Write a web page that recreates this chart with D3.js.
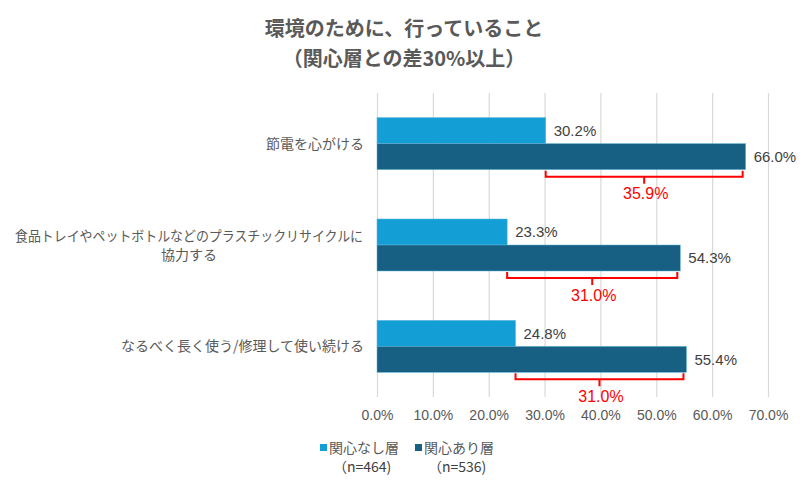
<!DOCTYPE html>
<html>
<head>
<meta charset="utf-8">
<script src="https://cdn.jsdelivr.net/npm/d3@7"></script>
<style>
  body { margin: 0; background: #fff; }
  svg { display: block; }
  .jp { font-family: "Noto Sans CJK JP", "Noto Sans", sans-serif; }
  .num { font-family: "Liberation Sans", Arial, sans-serif; }
</style>
</head>
<body>
<script>
let CATEGORIES = [
  ['節電を心がける'],
  ['食品トレイやペットボトルなどのプラスチックリサイクルに', '協力する'],
  ['なるべく長く使う/修理して使い続ける']
]
let SERIES = ['関心なし層', '関心あり層']
let SERIES_N = ['（n=464)', '（n=536)']
let NOT_INTERESTED = [30.2, 23.3, 24.8]
let INTERESTED = [66.0, 54.3, 55.4]
let DIFF_LABELS = ['35.9%', '31.0%', '31.0%']
let X_TICKS = [0, 10, 20, 30, 40, 50, 60, 70]
let TITLE = ['環境のために、行っていること', '（関心層との差30%以上）']

let COLORS = ['#139fd6', '#185f84']

function main () {
  let width = 807
  let height = 483
  let chart = {left: 377, right: 768, top: 93, bottom: 397}

  let svg = d3.select('body').append('svg')
    .attr('width', width)
    .attr('height', height)

  // title
  svg.append('g').selectAll('text').data(TITLE).enter()
    .append('text')
    .attr('class', 'jp')
    .attr('x', 404)
    .attr('y', (d, i) => 29 + i * 30)
    .attr('dy', '0.36em')
    .attr('text-anchor', 'middle')
    .attr('font-size', 20)
    .attr('font-weight', 'bold')
    .attr('fill', '#595959')
    .text(d => d)

  let x = d3.scaleLinear()
    .domain([0, 70])
    .range([chart.left, chart.right])

  let y = d3.scaleBand()
    .domain(d3.range(CATEGORIES.length))
    .range([chart.top, chart.bottom])
    .paddingInner(0.487)
    .paddingOuter(0.243)

  let ySub = d3.scaleBand()
    .domain(d3.range(SERIES.length))
    .range([0, y.bandwidth()])

  // grid
  let xAxis = d3.axisBottom(x)
    .tickValues(X_TICKS)
    .tickSize(-(chart.bottom - chart.top))
    .tickPadding(13)
    .tickFormat(d => d.toFixed(1) + '%')

  let axisG = svg.append('g')
    .attr('transform', `translate(0, ${chart.bottom})`)
    .call(xAxis)
  axisG.select('.domain').remove()
  axisG.selectAll('.tick line')
    .attr('stroke', '#d9d9d9')
    .attr('stroke-width', 1.2)
  axisG.selectAll('.tick text')
    .attr('class', 'num')
    .attr('font-size', 14)
    .attr('fill', '#595959')

  // bars
  let rows = CATEGORIES.map((c, i) => ({
    i, values: [NOT_INTERESTED[i], INTERESTED[i]]
  }))

  let groups = svg.append('g').selectAll('g').data(rows).enter()
    .append('g')
    .attr('transform', d => `translate(0, ${y(d.i)})`)

  groups.selectAll('rect').data(d => d.values).enter()
    .append('rect')
    .attr('x', x(0))
    .attr('y', (d, j) => ySub(j))
    .attr('width', d => x(d) - x(0))
    .attr('height', ySub.bandwidth())
    .attr('fill', (d, j) => COLORS[j])
    .attr('stroke', '#5fb6d9')
    .attr('stroke-width', 0.5)

  groups.selectAll('text.val').data(d => d.values).enter()
    .append('text')
    .attr('class', 'val num')
    .attr('x', d => x(d) + 8)
    .attr('y', (d, j) => ySub(j) + ySub.bandwidth() / 2)
    .attr('dy', '0.36em')
    .attr('font-size', 15)
    .attr('fill', '#404040')
    .text(d => d.toFixed(1) + '%')

  // difference brackets
  let bracketTop = y.bandwidth() + 1
  let bracketMid = bracketTop + 6
  let bracketTip = bracketMid + 7
  groups.append('path')
    .attr('fill', 'none')
    .attr('stroke', '#ff0000')
    .attr('stroke-width', 2)
    .attr('d', d => {
      let x0 = x(d.values[0])
      let x1 = x(d.values[1]) - 3
      let xm = (x0 + x1) / 2
      return `M${x0},${bracketTop}V${bracketMid}H${x1}V${bracketTop}` +
        `M${xm},${bracketMid}V${bracketTip}`
    })
  groups.append('text')
    .attr('class', 'num')
    .attr('x', d => (x(d.values[0]) + x(d.values[1])) / 2)
    .attr('y', bracketTip + 10)
    .attr('dy', '0.36em')
    .attr('text-anchor', 'middle')
    .attr('font-size', 16)
    .attr('fill', '#ff0000')
    .text(d => DIFF_LABELS[d.i])

  // category labels
  let catG = svg.append('g').selectAll('g').data(CATEGORIES).enter()
    .append('g')
    .attr('transform', (d, i) => `translate(0, ${y(i) + y.bandwidth() / 2})`)

  catG.each(function (lines) {
    let g = d3.select(this)
    let multi = lines.length > 1
    g.selectAll('text').data(lines).enter()
      .append('text')
      .attr('class', 'jp')
      .attr('x', multi ? 189 : 364)
      .attr('y', (d, k) => (k - (lines.length - 1) / 2) * 19)
      .attr('dy', '0.36em')
      .attr('text-anchor', multi ? 'middle' : 'end')
      .attr('font-size', 14)
      .attr('fill', '#595959')
      .each(function (d, k) {
        if (multi && k === 0) {
          d3.select(this)
            .attr('textLength', 348)
            .attr('lengthAdjust', 'spacingAndGlyphs')
        }
      })
      .text(d => d)
  })

  // legend
  let legend = svg.append('g').selectAll('g').data(SERIES).enter()
    .append('g')
    .attr('transform', (d, i) => `translate(${320 + i * 95}, 448)`)
  legend.append('rect')
    .attr('x', 0)
    .attr('y', -4)
    .attr('width', 7)
    .attr('height', 7)
    .attr('fill', (d, i) => COLORS[i])
  legend.append('text')
    .attr('class', 'jp')
    .attr('x', 9)
    .attr('dy', '0.36em')
    .attr('font-size', 14)
    .attr('fill', '#595959')
    .text(d => d)
  legend.append('text')
    .attr('class', 'jp')
    .attr('x', 13)
    .attr('y', 19)
    .attr('dy', '0.36em')
    .attr('font-size', 14)
    .attr('fill', '#404040')
    .text((d, i) => SERIES_N[i])
}

main()
</script>
</body>
</html>
